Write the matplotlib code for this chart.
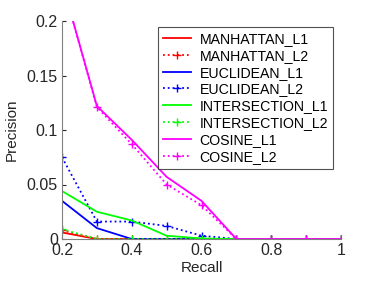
import matplotlib
matplotlib.use('Agg')
import matplotlib.pyplot as plt

plt.rcParams['font.family'] = ['Liberation Sans', 'DejaVu Sans']

# Recall levels
recall = [0.2, 0.3, 0.4, 0.5, 0.6, 0.7, 0.8, 0.9, 1.0]

# precision values per method
manhattan_l1 = [0.006, 0, 0, 0, 0, 0, 0, 0, 0]
manhattan_l2 = [0.008, 0, 0, 0, 0, 0, 0, 0, 0]
euclidean_l1 = [0.035, 0.010, 0, 0, 0, 0, 0, 0, 0]
euclidean_l2 = [0.075, 0.016, 0.016, 0.012, 0.003, 0, 0, 0, 0]
intersection_l1 = [0.044, 0.025, 0.017, 0.003, 0.0005, 0, 0, 0, 0]
intersection_l2 = [0.009, 0, 0, 0, 0, 0, 0, 0, 0]
cosine_l1 = [0.236, 0.122, 0.091, 0.057, 0.035, 0, 0, 0, 0]
cosine_l2 = [0.236, 0.121, 0.087, 0.050, 0.031, 0, 0, 0, 0]

fig = plt.figure(figsize=(3.74, 2.85), dpi=100)
ax = fig.add_axes([62/374, 46/285, 279/374, 218/285])

ax.plot(recall, manhattan_l1, '-', color='red', lw=1.3, label='MANHATTAN_L1')
ax.plot(recall, manhattan_l2, ':', color='red', lw=1.3, marker='+', ms=6, label='MANHATTAN_L2')
ax.plot(recall, euclidean_l1, '-', color='blue', lw=1.3, label='EUCLIDEAN_L1')
ax.plot(recall, euclidean_l2, ':', color='blue', lw=1.3, marker='+', ms=6, label='EUCLIDEAN_L2')
ax.plot(recall, intersection_l1, '-', color='#00ff00', lw=1.3, label='INTERSECTION_L1')
ax.plot(recall, intersection_l2, ':', color='#00ff00', lw=1.3, marker='+', ms=6, label='INTERSECTION_L2')
ax.plot(recall, cosine_l1, '-', color='magenta', lw=1.3, label='COSINE_L1')
ax.plot(recall, cosine_l2, ':', color='magenta', lw=1.3, marker='+', ms=6, label='COSINE_L2')

ax.set_xlim(0.2, 1)
ax.set_ylim(0, 0.2)
ax.set_xticks([0.2, 0.4, 0.6, 0.8, 1])
ax.set_xticklabels(['0.2', '0.4', '0.6', '0.8', '1'])
ax.set_yticks([0, 0.05, 0.1, 0.15, 0.2])
ax.set_yticklabels(['0', '0.05', '0.1', '0.15', '0.2'])
ax.set_xlabel('Recall', fontsize=11, color='#262626', labelpad=2)
ax.set_ylabel('Precision', fontsize=11, color='#262626', labelpad=6)
ax.tick_params(direction='in', length=3, labelsize=11.5, colors='#262626', pad=3)
for s in ['top', 'right']:
    ax.spines[s].set_visible(False)
for s in ['left', 'bottom']:
    ax.spines[s].set_color('#808080')

leg = ax.legend(loc='upper right', bbox_to_anchor=(333/374, 1 - 27/285), bbox_transform=fig.transFigure,
                fontsize=10.2, frameon=True, fancybox=False, handlelength=2.0,
                labelspacing=0.2, borderpad=0.35, handletextpad=0.6, borderaxespad=0)
leg.get_frame().set_edgecolor('#262626')
leg.get_frame().set_linewidth(0.8)

fig.savefig('out.png', dpi=100)
